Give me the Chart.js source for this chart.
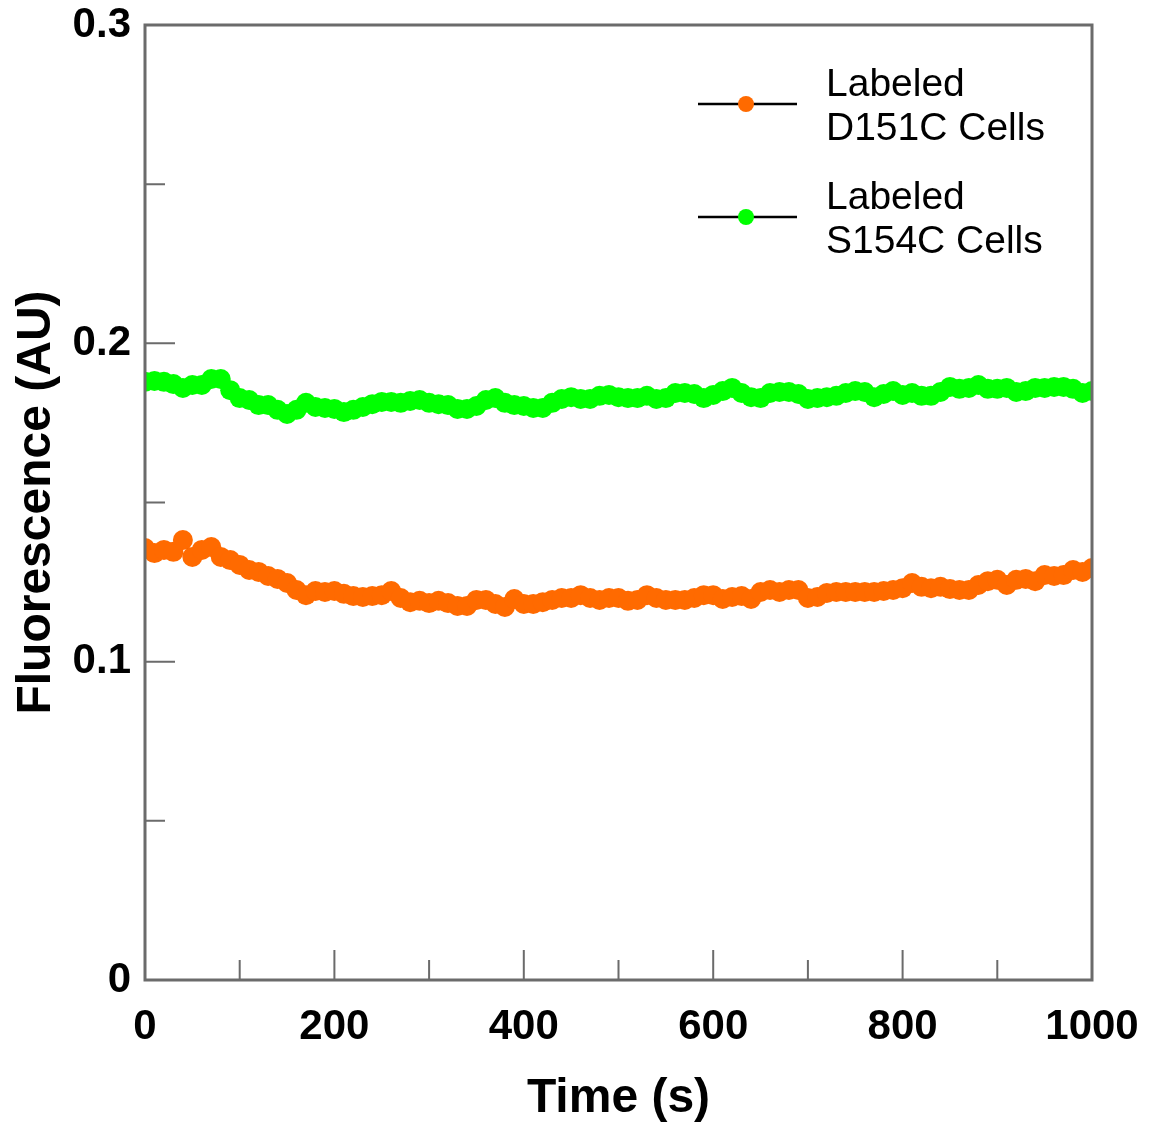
<!DOCTYPE html>
<html>
<head>
<meta charset="utf-8">
<script src="https://cdn.jsdelivr.net/npm/chart.js@4"></script>
<style>
  body { margin: 0; background: #fff; }
  #wrap { width: 1150px; height: 1128px; }
</style>
</head>
<body>
<div id="wrap"><canvas id="graf"></canvas></div>
<script>
// time axis, every 10 s
const timeS = [];
for (let t = 0; t <= 1000; t += 10) timeS.push(t);

const seriesNames = ['Labeled\nD151C Cells', 'Labeled\nS154C Cells'];
const seriesColors = ['#ff6a00', '#00ff00'];

const d151c = [
  0.1357, 0.1341, 0.1351, 0.1345, 0.1382, 0.1329, 0.1351, 0.1360, 0.1329, 0.1319,
  0.1304, 0.1288, 0.1282, 0.1269, 0.1260, 0.1247, 0.1225, 0.1209, 0.1222, 0.1219,
  0.1222, 0.1213, 0.1206, 0.1203, 0.1206, 0.1209, 0.1222, 0.1200, 0.1187, 0.1191,
  0.1184, 0.1191, 0.1184, 0.1175, 0.1175, 0.1194, 0.1194, 0.1181, 0.1172, 0.1197,
  0.1181, 0.1181, 0.1187, 0.1194, 0.1200, 0.1200, 0.1209, 0.1200, 0.1194, 0.1200,
  0.1200, 0.1191, 0.1194, 0.1209, 0.1200, 0.1194, 0.1194, 0.1194, 0.1200, 0.1209,
  0.1209, 0.1197, 0.1203, 0.1206, 0.1197, 0.1219, 0.1225, 0.1219, 0.1225, 0.1225,
  0.1200, 0.1203, 0.1216, 0.1219, 0.1219, 0.1219, 0.1219, 0.1219, 0.1222, 0.1225,
  0.1231, 0.1247, 0.1235, 0.1231, 0.1235, 0.1228, 0.1225, 0.1225, 0.1241, 0.1253,
  0.1257, 0.1241, 0.1257, 0.1260, 0.1253, 0.1272, 0.1269, 0.1272, 0.1288, 0.1282,
  0.1294
];
const s154c = [
  0.1879, 0.1882, 0.1879, 0.1872, 0.1860, 0.1869, 0.1869, 0.1888, 0.1888, 0.1853,
  0.1828, 0.1822, 0.1806, 0.1806, 0.1791, 0.1778, 0.1791, 0.1813, 0.1800, 0.1797,
  0.1794, 0.1784, 0.1791, 0.1800, 0.1809, 0.1816, 0.1816, 0.1813, 0.1819, 0.1822,
  0.1813, 0.1809, 0.1806, 0.1794, 0.1794, 0.1803, 0.1822, 0.1828, 0.1813, 0.1806,
  0.1803, 0.1797, 0.1797, 0.1813, 0.1825, 0.1831, 0.1825, 0.1825, 0.1835, 0.1838,
  0.1831, 0.1828, 0.1828, 0.1835, 0.1825, 0.1828, 0.1844, 0.1844, 0.1841, 0.1828,
  0.1838, 0.1850, 0.1860, 0.1844, 0.1831, 0.1828, 0.1844, 0.1847, 0.1847, 0.1841,
  0.1825, 0.1828, 0.1831, 0.1835, 0.1844, 0.1850, 0.1847, 0.1831, 0.1841, 0.1850,
  0.1838, 0.1844, 0.1835, 0.1835, 0.1847, 0.1863, 0.1857, 0.1860, 0.1869, 0.1857,
  0.1857, 0.1860, 0.1847, 0.1850, 0.1860, 0.1860, 0.1863, 0.1863, 0.1857, 0.1844,
  0.1850
];

const xMajor = [0, 200, 400, 600, 800, 1000];
const xMinor = [100, 300, 500, 700, 900];
const yMajor = [0, 0.1, 0.2, 0.3];
const yMinor = [0.05, 0.15, 0.25];

const axisFont = "'Liberation Sans Narrow', 'Liberation Sans', Arial, sans-serif";
const boxColor = '#6b6b6b';

// frame, inward ticks and the legend
const framePlugin = {
  id: 'frame',
  afterDraw(chart) {
    const ctx = chart.ctx;
    const a = chart.chartArea;
    const xs = chart.scales.x, ys = chart.scales.y;
    ctx.save();
    ctx.strokeStyle = boxColor;
    ctx.lineWidth = 3;
    ctx.strokeRect(a.left, a.top, a.right - a.left, a.bottom - a.top);
    ctx.lineWidth = 2;
    ctx.beginPath();
    xMajor.forEach(v => { const p = xs.getPixelForValue(v); ctx.moveTo(p, a.bottom); ctx.lineTo(p, a.bottom - 30); });
    xMinor.forEach(v => { const p = xs.getPixelForValue(v); ctx.moveTo(p, a.bottom); ctx.lineTo(p, a.bottom - 20); });
    yMajor.forEach(v => { const p = ys.getPixelForValue(v); ctx.moveTo(a.left, p); ctx.lineTo(a.left + 30, p); });
    yMinor.forEach(v => { const p = ys.getPixelForValue(v); ctx.moveTo(a.left, p); ctx.lineTo(a.left + 20, p); });
    ctx.stroke();

    // legend
    ctx.font = "39px 'Liberation Sans', Arial, sans-serif";
    ctx.textBaseline = 'middle';
    chart.data.datasets.forEach((ds, i) => {
      const cy = 104 + i * 113;
      ctx.strokeStyle = '#000';
      ctx.lineWidth = 2.5;
      ctx.beginPath();
      ctx.moveTo(698, cy); ctx.lineTo(797, cy);
      ctx.stroke();
      ctx.fillStyle = ds.pointBackgroundColor;
      ctx.beginPath();
      ctx.arc(746, cy, 8, 0, Math.PI * 2);
      ctx.fill();
      ctx.fillStyle = '#000';
      ds.label.split('\n').forEach((line, j) => ctx.fillText(line, 826, cy - 19 + j * 44));
    });
    ctx.restore();
  }
};

window.addEventListener('DOMContentLoaded', () => {
  const makeSet = (label, ys, color) => ({
    label: label,
    data: timeS.map((t, i) => ({ x: t, y: ys[i] })),
    showLine: true,
    borderColor: '#000',
    borderWidth: 1,
    pointRadius: 10,
    pointBorderWidth: 0,
    pointBackgroundColor: color,
    pointBorderColor: color
  });

  new Chart(document.getElementById('graf'), {
    type: 'scatter',
    data: {
      datasets: [
        makeSet(seriesNames[0], d151c, seriesColors[0]),
        makeSet(seriesNames[1], s154c, seriesColors[1])
      ]
    },
    options: {
      responsive: true,
      maintainAspectRatio: false,
      animation: false,
      layout: { padding: { left: 0, top: 25, right: 58, bottom: 0 } },
      plugins: { legend: { display: false }, tooltip: { enabled: false } },
      scales: {
        x: {
          type: 'linear', min: 0, max: 1000,
          grid: { display: false, drawTicks: false },
          border: { display: false },
          ticks: {
            stepSize: 200, padding: 22, color: '#000',
            font: { family: axisFont, size: 42, weight: 'bold' },
            callback: v => String(v)
          },
          title: { display: true, text: 'Time (s)', color: '#000', padding: 0, font: { family: axisFont, size: 48, weight: 'bold' } },
          afterFit(s) { s.height = 148; s.paddingLeft = 0; s.paddingRight = 0; }
        },
        y: {
          min: 0, max: 0.3,
          grid: { display: false, drawTicks: false },
          border: { display: false },
          ticks: {
            stepSize: 0.1, padding: 14, color: '#000',
            font: { family: axisFont, size: 42, weight: 'bold' },
            callback: v => v === 0 ? '0' : v.toFixed(1)
          },
          title: { display: true, text: 'Fluorescence (AU)', color: '#000', padding: { top: 8, bottom: 0 }, font: { family: axisFont, size: 48, weight: 'bold' } },
          afterFit(s) { s.width = 145; s.paddingTop = 0; s.paddingBottom = 0; }
        }
      }
    },
    plugins: [framePlugin]
  });
});
</script>
</body>
</html>
